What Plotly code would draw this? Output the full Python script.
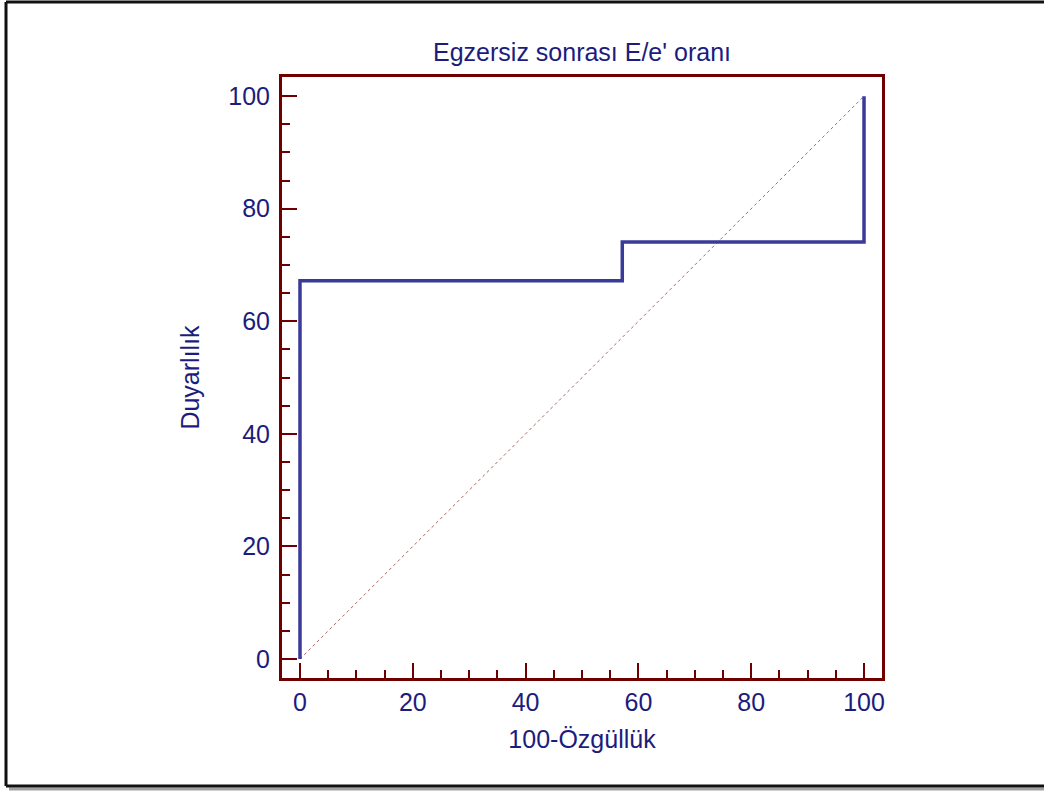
import plotly.graph_objects as go

# ROC curve data (100-Specificity, Sensitivity)
fpr = [0, 0, 57.14, 57.14, 100, 100]
tpr = [0, 67.2, 67.2, 74.1, 74.1, 100]
diag_x = [0, 100]
diag_y = [0, 100]
x_ticks = [0, 20, 40, 60, 80, 100]
y_ticks = [0, 20, 40, 60, 80, 100]

title_text = "Egzersiz sonrası E/e' oranı"
x_title = "100-Özgüllük"
y_title = "Duyarlılık"

W, H = 1044, 791
L, R, T, B = 282, 162, 77, 113
pw, ph = W - L - R, H - T - B

navy = "#1c1c7c"
axis_col = "#700000"
FONT = "Liberation Sans, Arial"

fig = go.Figure()
fig.add_trace(go.Scatter(x=diag_x, y=diag_y, mode="lines",
                         line=dict(color="#a86868", width=1, dash="dot"),
                         hoverinfo="skip", showlegend=False))
fig.add_trace(go.Scatter(x=fpr, y=tpr, mode="lines",
                         line=dict(color="#3a3a98", width=3.5),
                         showlegend=False))

axis_common = dict(
    showgrid=False, zeroline=False,
    showline=True, linecolor=axis_col, linewidth=3, mirror=True,
    ticks="inside", ticklen=15, tickwidth=2, tickcolor=axis_col,
    tickfont=dict(family=FONT, size=25, color=navy),
    minor=dict(ticks="inside", ticklen=8, tickwidth=2, tickcolor=axis_col, dtick=5),
)

fig.update_xaxes(range=[-3.19, 103.19], tickvals=x_ticks, ticklabelstandoff=0, **axis_common,
                 title=dict(text=x_title, standoff=16,
                            font=dict(family=FONT, size=25, color=navy)))
fig.update_yaxes(range=[-3.37, 103.4], tickvals=y_ticks, ticklabelstandoff=4, **axis_common,
                 title=dict(text=y_title, standoff=22,
                            font=dict(family=FONT, size=25, color=navy)))

def px_x(p):
    return (p - L) / pw

def px_y(p):
    return (H - B - p) / ph

# outer frame (top, left, bottom) with shadow
shadow = dict(color="#a0a0a0", width=3)
frame = dict(color="#111111", width=3)
fig.add_shape(type="line", xref="paper", yref="paper",
              x0=px_x(9), x1=px_x(1044), y0=px_y(789), y1=px_y(789), line=shadow, layer="below")
fig.add_shape(type="line", xref="paper", yref="paper",
              x0=px_x(6), x1=px_x(1044), y0=px_y(2), y1=px_y(2), line=frame, layer="below")
fig.add_shape(type="line", xref="paper", yref="paper",
              x0=px_x(6), x1=px_x(6), y0=px_y(2), y1=px_y(786), line=frame, layer="below")
fig.add_shape(type="line", xref="paper", yref="paper",
              x0=px_x(6), x1=px_x(1044), y0=px_y(786), y1=px_y(786), line=frame, layer="below")

fig.update_layout(
    width=W, height=H,
    margin=dict(l=L, r=R, t=T, b=B),
    paper_bgcolor="white", plot_bgcolor="white",
    title=dict(text=title_text, x=(L + pw / 2) / W, xanchor="center",
               y=1 - 52 / H, yanchor="middle",
               font=dict(family=FONT, size=25, color=navy)),
    showlegend=False,
)

fig.write_html("out.html")
